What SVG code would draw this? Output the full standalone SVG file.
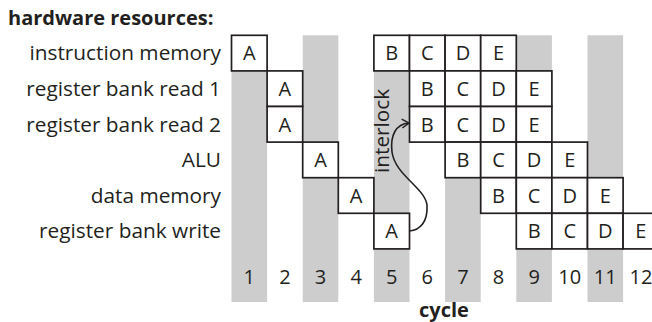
<svg xmlns="http://www.w3.org/2000/svg" width="652" height="322" viewBox="0 0 652 322">
<style>
text{font-family:"Open Sans","Liberation Sans",sans-serif;fill:#231f20}
.t{font-size:20px;font-weight:bold}
.lab{font-size:20.8px;text-anchor:end}
.cell rect{fill:#fff;stroke:#231f20;stroke-width:1.7}
.cell text{font-size:20px;text-anchor:middle}
.num{font-size:20px;text-anchor:middle}
.band{fill:#cdcdcd}
.conn{fill:none;stroke:#231f20;stroke-width:1.6}
</style>
<defs>
<marker id="ah" markerUnits="userSpaceOnUse" markerWidth="10" markerHeight="12" refX="7.5" refY="5" orient="auto" viewBox="0 0 10 10">
<path d="M0.5,0.5 L7.5,5 L0.5,9.5" fill="none" stroke="#231f20" stroke-width="1.5"/>
</marker>
</defs>
<rect width="652" height="322" fill="#fff"/>
<g id="bands">
<rect class="band" x="231.5" y="35.3" width="35.6" height="266.7"/>
<rect class="band" x="302.7" y="35.3" width="35.6" height="266.7"/>
<rect class="band" x="373.9" y="35.3" width="35.6" height="266.7"/>
<rect class="band" x="445.1" y="35.3" width="35.6" height="266.7"/>
<rect class="band" x="516.3" y="35.3" width="35.6" height="266.7"/>
<rect class="band" x="587.5" y="35.3" width="35.6" height="266.7"/>
</g>
<text class="t" x="8" y="25">hardware resources:</text>
<g id="labels">
<text class="lab" x="221" y="60.3">instruction memory</text>
<text class="lab" x="221" y="95.9">register bank read 1</text>
<text class="lab" x="221" y="131.5">register bank read 2</text>
<text class="lab" x="221" y="167.1">ALU</text>
<text class="lab" x="221" y="202.7">data memory</text>
<text class="lab" x="221" y="238.3">register bank write</text>
</g>
<g id="row1">
<g id="r1-A" class="cell"><rect x="231.5" y="35.3" width="35.6" height="35.6"/><text x="249.3" y="60.3">A</text></g>
<g id="r1-B" class="cell"><rect x="373.9" y="35.3" width="35.6" height="35.6"/><text x="391.7" y="60.3">B</text></g>
<g id="r1-C" class="cell"><rect x="409.5" y="35.3" width="35.6" height="35.6"/><text x="427.3" y="60.3">C</text></g>
<g id="r1-D" class="cell"><rect x="445.1" y="35.3" width="35.6" height="35.6"/><text x="462.9" y="60.3">D</text></g>
<g id="r1-E" class="cell"><rect x="480.7" y="35.3" width="35.6" height="35.6"/><text x="498.5" y="60.3">E</text></g>
</g>
<g id="row2">
<g id="r2-A" class="cell"><rect x="267.1" y="70.9" width="35.6" height="35.6"/><text x="284.9" y="95.9">A</text></g>
<g id="r2-B" class="cell"><rect x="409.5" y="70.9" width="35.6" height="35.6"/><text x="427.3" y="95.9">B</text></g>
<g id="r2-C" class="cell"><rect x="445.1" y="70.9" width="35.6" height="35.6"/><text x="462.9" y="95.9">C</text></g>
<g id="r2-D" class="cell"><rect x="480.7" y="70.9" width="35.6" height="35.6"/><text x="498.5" y="95.9">D</text></g>
<g id="r2-E" class="cell"><rect x="516.3" y="70.9" width="35.6" height="35.6"/><text x="534.1" y="95.9">E</text></g>
</g>
<g id="row3">
<g id="r3-A" class="cell"><rect x="267.1" y="106.5" width="35.6" height="35.6"/><text x="284.9" y="131.5">A</text></g>
<g id="r3-B" class="cell"><rect x="409.5" y="106.5" width="35.6" height="35.6"/><text x="427.3" y="131.5">B</text></g>
<g id="r3-C" class="cell"><rect x="445.1" y="106.5" width="35.6" height="35.6"/><text x="462.9" y="131.5">C</text></g>
<g id="r3-D" class="cell"><rect x="480.7" y="106.5" width="35.6" height="35.6"/><text x="498.5" y="131.5">D</text></g>
<g id="r3-E" class="cell"><rect x="516.3" y="106.5" width="35.6" height="35.6"/><text x="534.1" y="131.5">E</text></g>
</g>
<g id="row4">
<g id="r4-A" class="cell"><rect x="302.7" y="142.1" width="35.6" height="35.6"/><text x="320.5" y="167.1">A</text></g>
<g id="r4-B" class="cell"><rect x="445.1" y="142.1" width="35.6" height="35.6"/><text x="462.9" y="167.1">B</text></g>
<g id="r4-C" class="cell"><rect x="480.7" y="142.1" width="35.6" height="35.6"/><text x="498.5" y="167.1">C</text></g>
<g id="r4-D" class="cell"><rect x="516.3" y="142.1" width="35.6" height="35.6"/><text x="534.1" y="167.1">D</text></g>
<g id="r4-E" class="cell"><rect x="551.9" y="142.1" width="35.6" height="35.6"/><text x="569.7" y="167.1">E</text></g>
</g>
<g id="row5">
<g id="r5-A" class="cell"><rect x="338.3" y="177.7" width="35.6" height="35.6"/><text x="356.1" y="202.7">A</text></g>
<g id="r5-B" class="cell"><rect x="480.7" y="177.7" width="35.6" height="35.6"/><text x="498.5" y="202.7">B</text></g>
<g id="r5-C" class="cell"><rect x="516.3" y="177.7" width="35.6" height="35.6"/><text x="534.1" y="202.7">C</text></g>
<g id="r5-D" class="cell"><rect x="551.9" y="177.7" width="35.6" height="35.6"/><text x="569.7" y="202.7">D</text></g>
<g id="r5-E" class="cell"><rect x="587.5" y="177.7" width="35.6" height="35.6"/><text x="605.3" y="202.7">E</text></g>
</g>
<g id="row6">
<g id="r6-A" class="cell"><rect x="373.9" y="213.3" width="35.6" height="35.6"/><text x="391.7" y="238.3">A</text></g>
<g id="r6-B" class="cell"><rect x="516.3" y="213.3" width="35.6" height="35.6"/><text x="534.1" y="238.3">B</text></g>
<g id="r6-C" class="cell"><rect x="551.9" y="213.3" width="35.6" height="35.6"/><text x="569.7" y="238.3">C</text></g>
<g id="r6-D" class="cell"><rect x="587.5" y="213.3" width="35.6" height="35.6"/><text x="605.3" y="238.3">D</text></g>
<g id="r6-E" class="cell"><rect x="623.1" y="213.3" width="35.6" height="35.6"/><text x="640.9" y="238.3">E</text></g>
</g>
<g id="cycles">
<text class="num" x="249.3" y="283.5">1</text>
<text class="num" x="284.9" y="283.5">2</text>
<text class="num" x="320.5" y="283.5">3</text>
<text class="num" x="356.1" y="283.5">4</text>
<text class="num" x="391.7" y="283.5">5</text>
<text class="num" x="427.3" y="283.5">6</text>
<text class="num" x="462.9" y="283.5">7</text>
<text class="num" x="498.5" y="283.5">8</text>
<text class="num" x="534.1" y="283.5">9</text>
<text class="num" x="569.7" y="283.5">10</text>
<text class="num" x="605.3" y="283.5">11</text>
<text class="num" x="640.9" y="283.5">12</text>
</g>
<text class="t" x="444" y="316.5" text-anchor="middle">cycle</text>
<g id="connectors">
<path class="conn" d="M409.5,231 C420,230 428,222 427,205 C425,188 395,175 392,152 C390,135 396,124 409,123" marker-end="url(#ah)"/>
<text x="0" y="0" font-size="20.8px" transform="translate(388.5,173) rotate(-90)">interlock</text>
</g>
</svg>
